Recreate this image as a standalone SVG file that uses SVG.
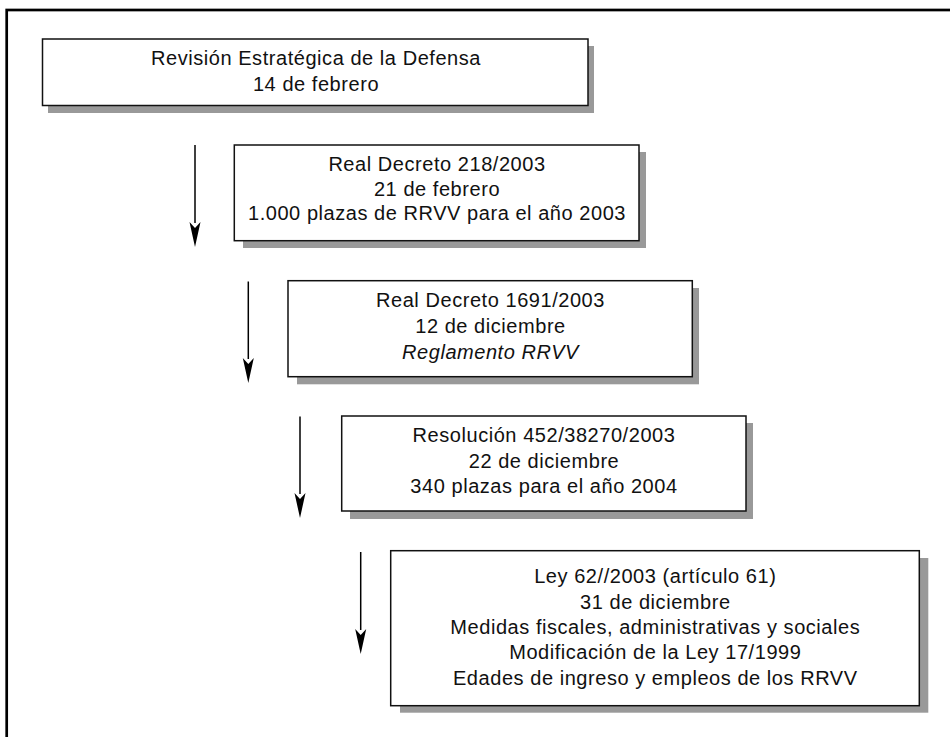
<svg xmlns="http://www.w3.org/2000/svg" width="950" height="737" viewBox="0 0 950 737">
<style>
.frame{fill:none;stroke:#000;stroke-width:2.7}
.shadow{fill:#999}
.box{fill:#fff;stroke:#111;stroke-width:1.5}
.t{font-family:"Liberation Sans",Arial,sans-serif;font-size:20px;letter-spacing:0.55px;fill:#111;text-anchor:middle}
.it{font-style:italic}
.ln{stroke:#000;stroke-width:1.5}
.hd{fill:#000}
</style>
<rect width="950" height="737" fill="#fff"/>
<rect class="frame" x="6.7" y="10" width="960" height="760"/>
<g id="connectors">
<line class="ln" x1="195" y1="145" x2="195" y2="223"/>
<path class="hd" d="M189.5,222 L195,228 L200.5,222 L195,247 Z"/>
<line class="ln" x1="248.3" y1="281.5" x2="248.3" y2="359"/>
<path class="hd" d="M242.8,358 L248.3,364 L253.8,358 L248.3,383 Z"/>
<line class="ln" x1="300" y1="416.5" x2="300" y2="494"/>
<path class="hd" d="M294.5,493 L300,499 L305.5,493 L300,518 Z"/>
<line class="ln" x1="360.7" y1="552" x2="360.7" y2="630"/>
<path class="hd" d="M355.2,629 L360.7,635 L366.2,629 L360.7,654 Z"/>
</g>
<g id="n1">
<rect class="shadow" x="48" y="46" width="546" height="67"/>
<rect class="box" x="42.5" y="39" width="545.5" height="66.5"/>
<text class="t" x="316" y="65">Revisión Estratégica de la Defensa</text>
<text class="t" x="316" y="90.5">14 de febrero</text>
</g>
<g id="n2">
<rect class="shadow" x="243" y="152" width="403" height="96"/>
<rect class="box" x="234.3" y="145" width="404.7" height="95.7"/>
<text class="t" x="437" y="170.7">Real Decreto 218/2003</text>
<text class="t" x="437" y="195.5">21 de febrero</text>
<text class="t" x="437" y="220.3">1.000 plazas de RRVV para el año 2003</text>
</g>
<g id="n3">
<rect class="shadow" x="297" y="288" width="402" height="96.3"/>
<rect class="box" x="288" y="280.7" width="404.3" height="96"/>
<text class="t" x="490.5" y="306.7">Real Decreto 1691/2003</text>
<text class="t" x="490.5" y="333">12 de diciembre</text>
<text class="t it" x="490.5" y="359.3">Reglamento RRVV</text>
</g>
<g id="n4">
<rect class="shadow" x="350" y="423" width="403" height="96"/>
<rect class="box" x="341.7" y="416" width="404.3" height="95"/>
<text class="t" x="544" y="442.3">Resolución 452/38270/2003</text>
<text class="t" x="544" y="468.3">22 de diciembre</text>
<text class="t" x="544" y="493.3">340 plazas para el año 2004</text>
</g>
<g id="n5">
<rect class="shadow" x="400" y="558" width="528.3" height="154.7"/>
<rect class="box" x="390.7" y="550.7" width="528.6" height="155"/>
<text class="t" x="655.3" y="583.3">Ley 62//2003 (artículo 61)</text>
<text class="t" x="655.3" y="608.5">31 de diciembre</text>
<text class="t" x="655.3" y="633.7">Medidas fiscales, administrativas y sociales</text>
<text class="t" x="655.3" y="659">Modificación de la Ley 17/1999</text>
<text class="t" x="655.3" y="684.5">Edades de ingreso y empleos de los RRVV</text>
</g>
</svg>
